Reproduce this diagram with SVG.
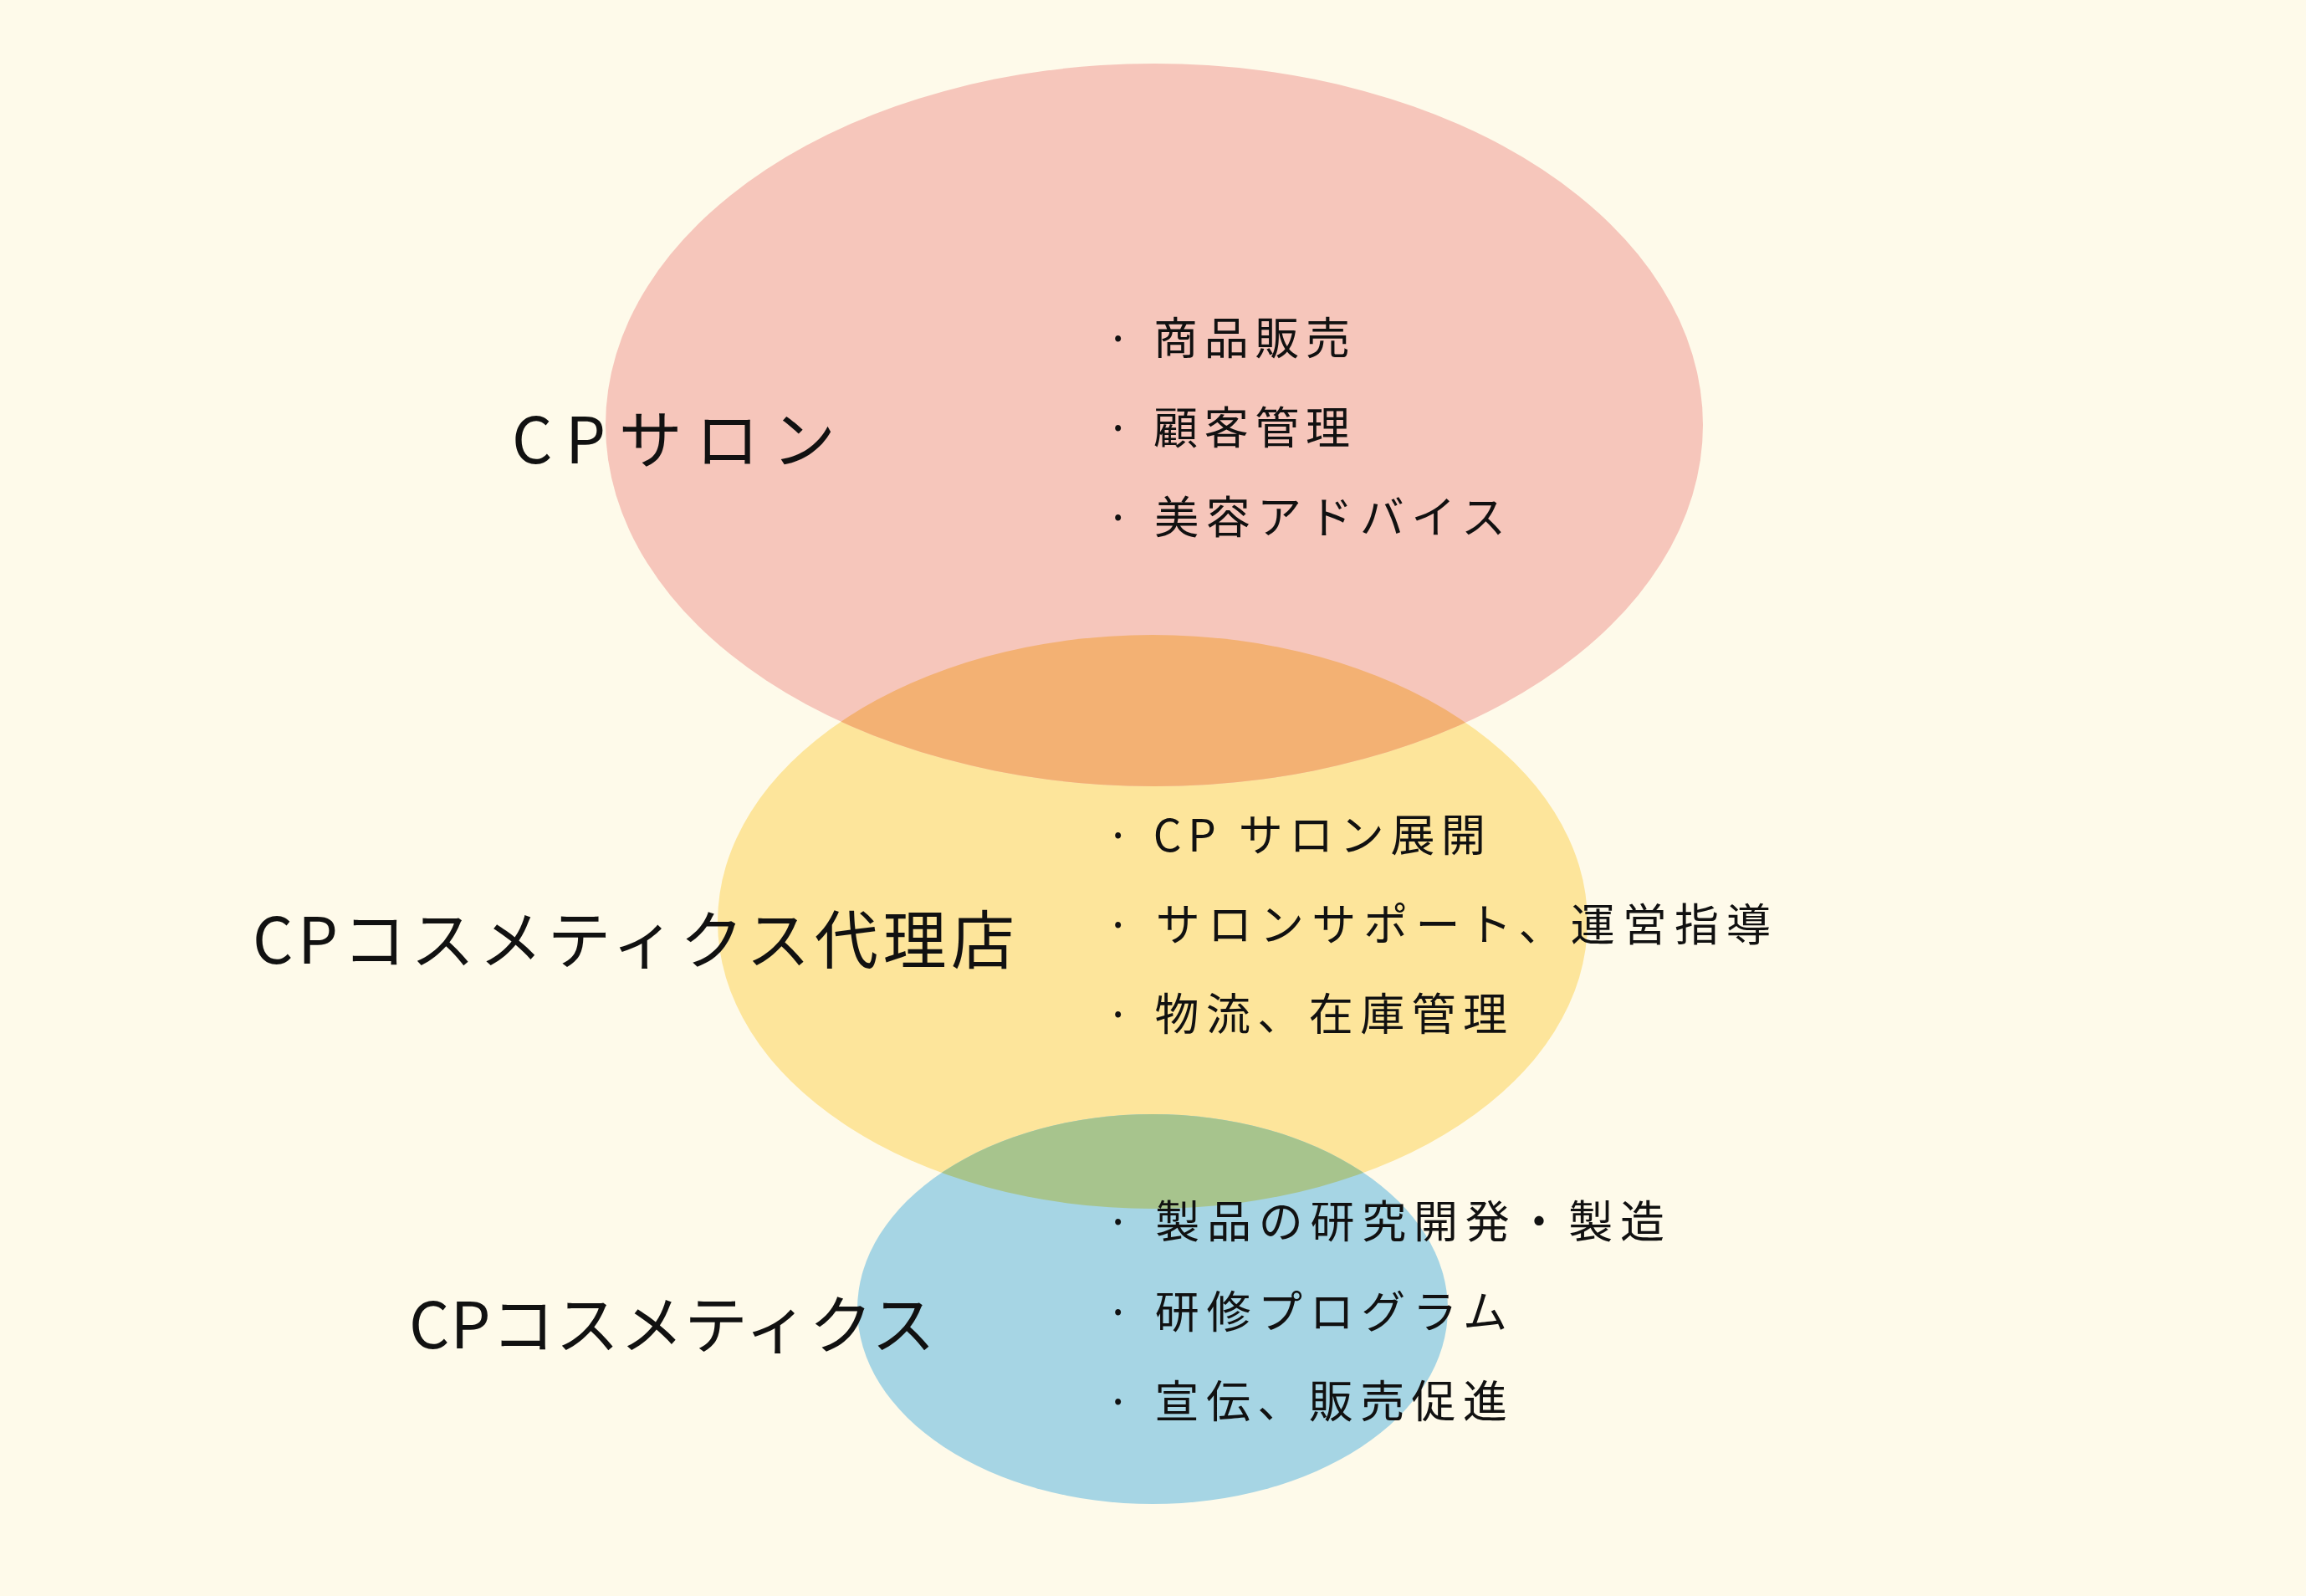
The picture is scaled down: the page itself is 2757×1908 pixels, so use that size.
<svg xmlns="http://www.w3.org/2000/svg" width="2757" height="1908" viewBox="0 0 2757 1908">
<style>
.lbl{font-family:"Noto Sans CJK JP","Noto Sans",sans-serif;font-size:76px;fill:#111}
.b{font-family:"Noto Sans CJK JP","Noto Sans",sans-serif;font-size:53px;fill:#111}
</style>
<defs>
<clipPath id="cy"><ellipse cx="1378" cy="1102" rx="520" ry="343"/></clipPath>
</defs>
<rect width="2757" height="1908" fill="#fefaea"/>
<g id="agency-shape"><ellipse cx="1378" cy="1102" rx="520" ry="343" fill="#fde59b"/></g>
<g id="cosmetics-shape"><ellipse cx="1378" cy="1565" rx="353" ry="233" fill="#a6d5e4"/></g>
<g id="salon-shape"><ellipse cx="1380" cy="508" rx="656" ry="432" fill="#f6c6bb"/></g>
<g id="overlaps">
<ellipse cx="1380" cy="508" rx="656" ry="432" fill="#f3b173" clip-path="url(#cy)"/>
<ellipse cx="1378" cy="1565" rx="353" ry="233" fill="#a7c48d" clip-path="url(#cy)"/>
</g>
<g id="connectors"/>
<g id="salon">
<text class="lbl" x="612" y="554" textLength="387" lengthAdjust="spacing">CPサロン</text>
<text class="b" x="1322" y="424" textLength="292" lengthAdjust="spacing">· 商品販売</text>
<text class="b" x="1322" y="531" textLength="292" lengthAdjust="spacing">· 顧客管理</text>
<text class="b" x="1322" y="638" textLength="478" lengthAdjust="spacing">· 美容アドバイス</text>
</g>
<g id="agency">
<text class="lbl" x="302" y="1152" textLength="911" lengthAdjust="spacing">CPコスメティクス代理店</text>
<text class="b" x="1322" y="1018" textLength="454" lengthAdjust="spacing">· CP サロン展開</text>
<text class="b" x="1322" y="1125" textLength="795" lengthAdjust="spacing">· サロンサポート、運営指導</text>
<text class="b" x="1322" y="1232" textLength="480" lengthAdjust="spacing">· 物流、在庫管理</text>
</g>
<g id="cosmetics">
<text class="lbl" x="489" y="1612" textLength="629" lengthAdjust="spacing">CPコスメティクス</text>
<text class="b" x="1322" y="1480" textLength="668" lengthAdjust="spacing">· 製品の研究開発・製造</text>
<text class="b" x="1322" y="1588" textLength="480" lengthAdjust="spacing">· 研修プログラム</text>
<text class="b" x="1322" y="1695" textLength="480" lengthAdjust="spacing">· 宣伝、販売促進</text>
</g>
</svg>
